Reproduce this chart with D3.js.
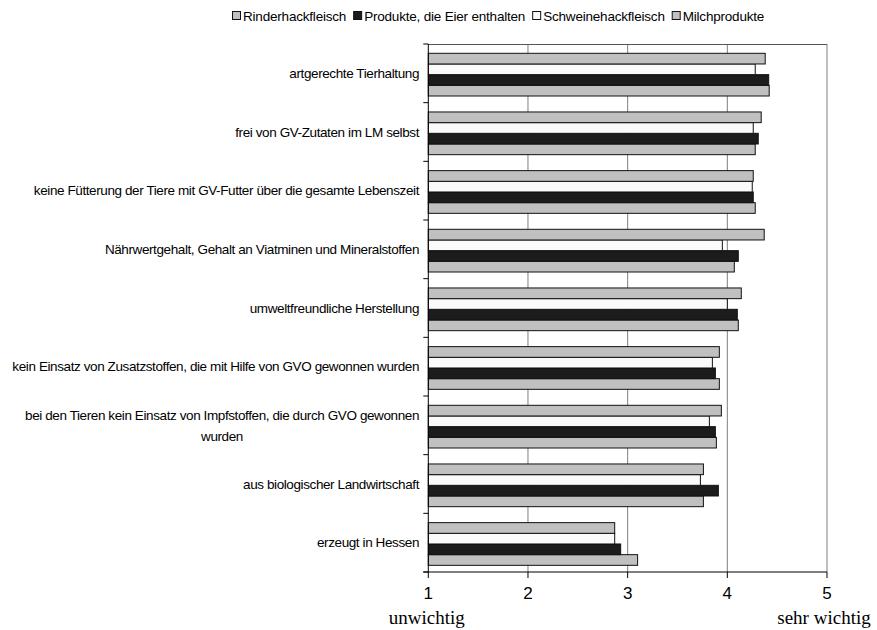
<!DOCTYPE html>
<html><head><meta charset="utf-8">
<script src="https://cdn.jsdelivr.net/npm/d3@7"></script>
<style>body{margin:0;background:#fff}svg{display:block}</style>
</head><body><svg id="c" width="877" height="630"></svg>
<script>
const categories = [
  "artgerechte Tierhaltung",
  "frei von GV-Zutaten im LM  selbst",
  "keine Fütterung der Tiere mit GV-Futter über die gesamte Lebenszeit",
  "Nährwertgehalt, Gehalt an Viatminen und Mineralstoffen",
  "umweltfreundliche Herstellung",
  "kein Einsatz von Zusatzstoffen, die mit Hilfe von GVO gewonnen wurden",
  "bei den Tieren kein Einsatz von Impfstoffen, die durch GVO gewonnen|wurden",
  "aus biologischer Landwirtschaft",
  "erzeugt in Hessen"
];
const seriesNames = ["Rinderhackfleisch", "Produkte, die Eier enthalten", "Schweinehackfleisch", "Milchprodukte"];
const rinder  = [4.42, 4.28, 4.28, 4.07, 4.11, 3.92, 3.89, 3.76, 3.10];
const eier    = [4.415, 4.31, 4.26, 4.11, 4.10, 3.88, 3.88, 3.91, 2.93];
const schwein = [4.28, 4.26, 4.25, 3.95, 4.00, 3.85, 3.82, 3.73, 2.87];
const milch   = [4.38, 4.34, 4.26, 4.37, 4.14, 3.92, 3.94, 3.76, 2.87];
const xTicks = [1, 2, 3, 4, 5];
const colors = ["#c0c0c0", "#1c1c1c", "#fafafa", "#c0c0c0"];

const seriesValues = [rinder, eier, schwein, milch];
const svg = d3.select("#c");
const L = 428.3, R = 827, T = 44, B = 572;
const x = d3.scaleLinear().domain([1, 5]).range([L, R]);
const y = d3.scaleBand().domain(categories).range([T, B]).padding(0);
// within-group order top to bottom: Milch, Schwein, Eier, Rinder
const inner = d3.scaleBand().domain([3, 2, 1, 0]).range([9.3, 52]).padding(0);

// gridlines
svg.append("g").selectAll("line").data(xTicks.slice(1)).join("line")
  .attr("x1", d => x(d)).attr("x2", d => x(d)).attr("y1", T).attr("y2", B)
  .attr("stroke", "#7f7f7f").attr("stroke-width", 1);
// top border
svg.append("line").attr("x1", L).attr("x2", R).attr("y1", T + 0.5).attr("y2", T + 0.5)
  .attr("stroke", "#555").attr("stroke-width", 1);

// bars
const data = [];
categories.forEach((c, i) => seriesValues.forEach((vals, s) => data.push({c, s, v: vals[i]})));
svg.append("g").selectAll("rect").data(data).join("rect")
  .attr("x", x(1))
  .attr("y", d => y(d.c) + inner(d.s))
  .attr("width", d => x(d.v) - x(1))
  .attr("height", inner.bandwidth())
  .attr("fill", d => colors[d.s])
  .attr("stroke", "#111").attr("stroke-width", 1);

// left axis
const yAxis = svg.append("g").attr("transform", `translate(${L},0)`);
yAxis.append("line").attr("x1", 0).attr("x2", 0).attr("y1", T).attr("y2", B).attr("stroke", "#000");
const bounds = d3.range(categories.length + 1).map(i => T + i * y.step());
yAxis.selectAll("line.tk").data(bounds).join("line").attr("class", "tk")
  .attr("x1", -5).attr("x2", 0).attr("y1", d => d).attr("y2", d => d).attr("stroke", "#000");

// category labels
const lab = svg.append("g").attr("font-family", "Liberation Sans, Arial, sans-serif")
  .attr("font-size", 13.5).attr("letter-spacing", "-0.4").attr("fill", "#000");
categories.forEach(c => {
  const parts = c.split("|");
  const cy = y(c) + y.bandwidth() / 2;
  if (parts.length === 1) {
    lab.append("text").attr("x", 419).attr("y", cy).attr("dy", "0.35em")
      .attr("text-anchor", "end").text(parts[0]);
  } else {
    const t = lab.append("text").attr("x", 419).attr("y", cy - 10.5).attr("dy", "0.35em")
      .attr("text-anchor", "end").text(parts[0]);
    const w = t.node().getComputedTextLength();
    lab.append("text").attr("x", 419 - w / 2).attr("y", cy + 10.5).attr("dy", "0.35em")
      .attr("text-anchor", "middle").text(parts[1]);
  }
});

// bottom axis
const xAxis = svg.append("g").attr("transform", `translate(0,${B})`);
xAxis.append("line").attr("x1", L - 5).attr("x2", R).attr("y1", 0).attr("y2", 0).attr("stroke", "#000");
xAxis.selectAll("line.tk").data(xTicks).join("line").attr("class", "tk")
  .attr("x1", d => x(d)).attr("x2", d => x(d)).attr("y1", 0).attr("y2", 6).attr("stroke", "#000");
xAxis.selectAll("text").data(xTicks).join("text")
  .attr("x", d => x(d)).attr("y", 27).attr("text-anchor", "middle")
  .attr("font-family", "Liberation Sans, Arial, sans-serif").attr("font-size", 17)
  .text(d => d);
svg.append("text").attr("x", x(1) - 1.5).attr("y", 624).attr("text-anchor", "middle")
  .attr("font-family", "Liberation Serif, Times New Roman, serif").attr("font-size", 19).text("unwichtig");
svg.append("text").attr("x", 824).attr("y", 624).attr("text-anchor", "middle")
  .attr("font-family", "Liberation Serif, Times New Roman, serif").attr("font-size", 19).text("sehr wichtig");

// legend
const lg = svg.append("g").attr("font-family", "Liberation Sans, Arial, sans-serif")
  .attr("font-size", 13.5).attr("letter-spacing", "-0.2");
let lx = 232;
seriesNames.forEach((n, i) => {
  lg.append("rect").attr("x", lx + 0.5).attr("y", 11.5).attr("width", 8).attr("height", 8)
    .attr("fill", colors[i]).attr("stroke", "#111");
  const t = lg.append("text").attr("x", lx + 11).attr("y", 20.5).text(n);
  lx += 11 + t.node().getComputedTextLength() + 7;
});
</script></body></html>
